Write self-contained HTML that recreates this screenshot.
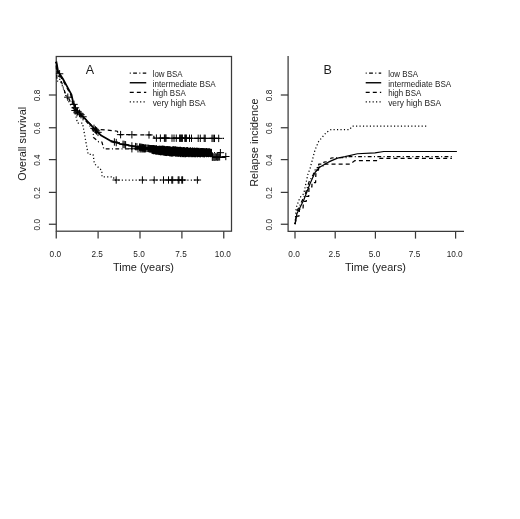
<!DOCTYPE html>
<html lang="en"><head><meta charset="utf-8"><title>Figure</title>
<style>html,body{margin:0;padding:0;background:#fff}svg{display:block}</style>
</head><body>
<svg width="520" height="519" viewBox="0 0 520 519" font-family="'Liberation Sans', sans-serif">
<rect width="520" height="519" fill="#fff"/>
<g fill="none" stroke="#3a3a3a" stroke-width="1.25">
<rect x="56.25" y="56.5" width="175.25" height="174.7"/>
<path d="M48.9,224.25H56.25"/>
<path d="M48.9,192.4H56.25"/>
<path d="M48.9,159.6H56.25"/>
<path d="M48.9,127.75H56.25"/>
<path d="M48.9,95H56.25"/>
<path d="M56.25,231.3V238.6"/>
<path d="M98.1,231.3V238.6"/>
<path d="M140,231.3V238.6"/>
<path d="M181.9,231.3V238.6"/>
<path d="M223.75,231.3V238.6"/>
</g>
<g fill="#1c1c1c" font-size="8.25" text-anchor="middle">
<text transform="translate(39.8,224.75) rotate(-90)">0.0</text>
<text transform="translate(39.8,192.9) rotate(-90)">0.2</text>
<text transform="translate(39.8,160.1) rotate(-90)">0.4</text>
<text transform="translate(39.8,128.25) rotate(-90)">0.6</text>
<text transform="translate(39.8,95.5) rotate(-90)">0.8</text>
<text x="55.35" y="257.0">0.0</text>
<text x="97.20" y="257.0">2.5</text>
<text x="139.10" y="257.0">5.0</text>
<text x="181.00" y="257.0">7.5</text>
<text x="222.85" y="257.0">10.0</text>
</g>
<g fill="#1c1c1c" font-size="10.8" text-anchor="middle">
<text x="143.5" y="270.6" textLength="61" lengthAdjust="spacingAndGlyphs">Time (years)</text>
<text transform="translate(26.0,143.8) rotate(-90)">Overall survival</text>
</g>
<text x="90" y="74.4" fill="#1c1c1c" font-size="12.5" text-anchor="middle">A</text>
<g fill="none" stroke="#000" stroke-linejoin="round">
<path d="M56.00,62.00 L56.50,70.00 L57.00,81.00 L61.40,81.60 L65.75,94.75 L68.90,98.50 L72.00,106.00 L76.00,112.00 L80.00,115.00 L86.00,121.00 L93.10,130.00 L93.50,137.50 L98.75,141.90 L101.90,142.00 L103.75,148.75 L190.00,148.75 L190.50,152.70 L220.40,152.70" stroke-width="1.25" stroke-dasharray="1 2.4 3.8 2.4"/>
<path d="M56.30,62.00 L57.60,72.00 L62.00,79.00 L66.80,87.50 L70.80,95.00 L72.60,103.00 L75.50,109.00 L77.00,110.50 L86.00,119.50 L94.00,128.50 L96.90,129.40 L106.25,130.00 L117.50,131.25 L118.00,134.60 L153.75,135.00 L154.00,138.10 L224.00,138.40" stroke-width="1.25" stroke-dasharray="4 3.1"/>
<path d="M56.00,62.00 L58.00,75.00 L62.00,85.00 L66.00,96.00 L70.00,104.00 L75.00,112.50 L77.50,123.10 L82.50,123.10 L88.10,154.20 L93.10,154.40 L94.40,163.75 L101.90,170.60 L102.00,176.90 L113.50,176.90 L114.00,180.00 L200.00,180.00" stroke-width="1.25" stroke-dasharray="1.15 2.3"/>
<path d="M56.30,61.50 L58.10,71.50 L62.70,78.50 L67.30,86.90 L71.50,94.60 L73.10,102.30 L75.80,108.50 L77.50,111.25 L86.25,120.00 L95.00,129.40 L101.25,135.60 L110.00,140.60 L120.00,143.75 L135.00,146.50 L155.00,149.40 L185.00,151.75 L212.00,152.80 L212.50,157.00 L225.80,157.00" stroke-width="1.75"/>
<path d="M55.90,73.78h7.40M59.60,70.08v7.40M70.30,104.37h7.40M74.00,100.67v7.40M71.80,107.81h7.40M75.50,104.11v7.40M73.80,111.25h7.40M77.50,107.55v7.40M75.80,113.25h7.40M79.50,109.55v7.40M77.30,114.75h7.40M81.00,111.05v7.40M79.30,116.75h7.40M83.00,113.05v7.40M90.30,128.33h7.40M94.00,124.63v7.40M91.80,129.90h7.40M95.50,126.20v7.40M92.80,130.89h7.40M96.50,127.19v7.40M94.30,132.38h7.40M98.00,128.68v7.40M64.10,97.19h7.40M67.80,93.49v7.40M71.30,110.50h7.40M75.00,106.80v7.40M73.30,112.75h7.40M77.00,109.05v7.40M110.70,141.99h7.40M114.40,138.29v7.40M112.55,142.57h7.40M116.25,138.87v7.40M119.30,144.30h7.40M123.00,140.60v7.40M120.50,144.52h7.40M124.20,140.82v7.40M121.90,144.78h7.40M125.60,141.08v7.40M128.20,145.93h7.40M131.90,142.23v7.40M131.90,146.59h7.40M135.60,142.89v7.40M133.20,146.78h7.40M136.90,143.08v7.40M128.20,148.75h7.40M131.90,145.05v7.40M134.30,148.75h7.40M138.00,145.05v7.40M137.30,148.75h7.40M141.00,145.05v7.40M135.80,147.15h7.40M139.50,143.45v7.40M136.30,148.75h7.40M140.00,145.05v7.40M136.49,147.25h7.40M140.19,143.55v7.40M137.13,147.35h7.40M140.83,143.65v7.40M137.95,147.46h7.40M141.65,143.76v7.40M138.45,148.75h7.40M142.15,145.05v7.40M138.86,147.60h7.40M142.56,143.90v7.40M139.36,148.75h7.40M143.06,145.05v7.40M139.72,147.72h7.40M143.42,144.02v7.40M140.22,148.75h7.40M143.92,145.05v7.40M140.37,147.82h7.40M144.07,144.12v7.40M140.87,148.75h7.40M144.57,145.05v7.40M141.47,147.97h7.40M145.17,144.27v7.40M141.97,148.75h7.40M145.67,145.05v7.40M142.20,148.08h7.40M145.90,144.38v7.40M143.37,148.25h7.40M147.07,144.55v7.40M144.21,148.37h7.40M147.91,144.67v7.40M144.84,148.46h7.40M148.54,144.76v7.40M145.61,148.58h7.40M149.31,144.88v7.40M146.11,148.75h7.40M149.81,145.05v7.40M146.28,148.67h7.40M149.98,144.97v7.40M146.78,148.75h7.40M150.48,145.05v7.40M147.37,148.83h7.40M151.07,145.13v7.40M147.87,148.75h7.40M151.57,145.05v7.40M148.32,148.97h7.40M152.02,145.27v7.40M149.14,149.09h7.40M152.84,145.39v7.40M149.78,149.18h7.40M153.48,145.48v7.40M150.28,148.75h7.40M153.98,145.05v7.40M150.50,149.28h7.40M154.20,145.58v7.40M216.70,152.70h7.40M220.40,149.00v7.40M222.10,156.50h7.40M225.80,152.80v7.40M116.90,134.63h7.40M120.60,130.93v7.40M128.20,134.76h7.40M131.90,131.06v7.40M145.30,134.95h7.40M149.00,131.25v7.40M152.70,138.11h7.40M156.40,134.41v7.40M156.70,138.13h7.40M160.40,134.43v7.40M160.70,138.14h7.40M164.40,134.44v7.40M161.50,138.15h7.40M165.20,134.45v7.40M162.30,138.15h7.40M166.00,134.45v7.40M168.30,138.18h7.40M172.00,134.48v7.40M170.30,138.19h7.40M174.00,134.49v7.40M172.60,138.20h7.40M176.30,134.50v7.40M175.90,138.21h7.40M179.60,134.51v7.40M176.90,138.21h7.40M180.60,134.51v7.40M177.90,138.22h7.40M181.60,134.52v7.40M178.70,138.22h7.40M182.40,134.52v7.40M181.10,138.23h7.40M184.80,134.53v7.40M181.90,138.24h7.40M185.60,134.54v7.40M182.70,138.24h7.40M186.40,134.54v7.40M185.80,138.25h7.40M189.50,134.55v7.40M187.80,138.26h7.40M191.50,134.56v7.40M194.50,138.29h7.40M198.20,134.59v7.40M196.60,138.30h7.40M200.30,134.60v7.40M200.50,138.32h7.40M204.20,134.62v7.40M201.50,138.32h7.40M205.20,134.62v7.40M208.30,138.35h7.40M212.00,134.65v7.40M209.50,138.35h7.40M213.20,134.65v7.40M210.80,138.36h7.40M214.50,134.66v7.40M215.00,138.38h7.40M218.70,134.68v7.40M112.50,180.00h7.40M116.20,176.30v7.40M138.70,180.00h7.40M142.40,176.30v7.40M150.50,180.00h7.40M154.20,176.30v7.40M159.80,180.00h7.40M163.50,176.30v7.40M164.80,180.00h7.40M168.50,176.30v7.40M168.10,180.00h7.40M171.80,176.30v7.40M169.00,180.00h7.40M172.70,176.30v7.40M174.50,180.00h7.40M178.20,176.30v7.40M175.30,180.00h7.40M179.00,176.30v7.40M178.10,180.00h7.40M181.80,176.30v7.40M178.90,180.00h7.40M182.60,176.30v7.40M193.70,180.00h7.40M197.40,176.30v7.40" stroke-width="1"/>
<path d="M152.00,145.12V153.85M152.50,145.28V153.70M153.00,145.59V154.09M153.50,145.20V154.06M154.00,145.46V154.37M154.50,145.67V153.97M155.00,145.91V153.91M155.50,145.51V154.49M156.00,145.34V154.35M156.50,145.29V154.56M157.00,145.91V154.56M157.50,146.03V154.42M158.00,145.92V154.71M158.50,145.86V154.66M159.00,146.10V155.12M159.50,145.83V154.96M160.00,145.53V155.05M160.50,146.03V155.35M161.00,146.20V154.85M161.50,145.89V155.22M162.00,145.63V155.12M162.50,145.77V154.91M163.00,145.72V155.50M163.50,145.80V155.15M164.00,146.04V155.71M164.50,145.83V155.44M165.00,146.23V155.85M165.50,146.48V155.90M166.00,146.08V155.61M166.50,146.17V156.05M167.00,146.68V155.53M167.50,146.09V155.66M168.00,146.16V155.93M168.50,146.48V155.81M169.00,146.04V156.00M169.50,146.36V156.19M170.00,146.86V156.35M170.50,146.54V156.32M171.00,146.70V155.90M171.50,146.91V156.50M172.00,146.92V156.55M172.50,146.57V156.25M173.00,146.37V156.47M173.50,146.37V156.04M174.00,146.51V156.15M174.50,146.65V156.08M175.00,146.41V156.19M175.50,146.52V156.39M176.00,146.49V156.82M176.50,146.99V156.27M177.00,146.73V156.45M177.50,146.85V156.30M178.00,147.27V157.03M178.50,147.00V156.64M179.00,146.72V156.37M179.50,146.96V156.52M180.00,147.38V156.47M180.50,146.76V157.13M181.00,147.20V156.51M181.50,147.24V156.44M182.00,147.26V157.23M182.50,147.56V157.03M183.00,147.11V156.79M183.50,147.06V157.12M184.00,147.38V157.13M184.50,147.24V156.68M185.00,147.65V157.30M185.50,147.71V157.15M186.00,147.70V157.10M186.50,147.26V156.93M187.00,147.38V156.54M187.50,147.15V156.74M188.00,147.36V157.07M188.50,147.94V156.88M189.00,147.95V157.31M189.50,147.99V156.82M190.00,147.43V156.71M190.50,147.43V156.69M191.00,147.80V157.25M191.50,148.00V156.92M192.00,147.87V157.17M192.50,147.44V157.07M193.00,148.13V157.16M193.50,148.03V156.92M194.00,147.59V157.17M194.50,147.74V157.18M195.00,148.28V156.86M195.50,147.85V157.31M196.00,148.13V156.69M196.50,147.68V156.67M197.00,148.32V157.20M197.50,147.74V157.22M198.00,148.43V157.08M198.50,147.96V157.00M199.00,147.80V156.57M199.50,148.50V157.08M200.00,148.17V157.31M200.50,148.12V157.26M201.00,148.46V156.74M201.50,148.03V156.81M202.00,148.04V157.04M202.50,148.08V156.91M203.00,148.00V157.30M203.50,148.21V156.95M204.00,148.42V157.30M204.50,148.31V157.32M205.00,148.40V157.01M205.50,148.44V156.60M206.00,148.40V156.73M206.50,148.08V157.23M207.00,148.24V156.97M207.50,148.71V157.04M208.00,148.41V157.01M208.50,148.62V157.23M209.00,148.28V157.05M209.50,148.43V156.82M210.00,148.88V157.01M210.50,148.75V157.21M211.00,149.06V156.95M211.50,148.86V157.00M212.30,153.31V160.92M213.13,153.32V160.79M214.20,153.42V161.03M215.27,153.16V160.84M216.34,153.50V160.58M217.00,153.27V160.54M217.72,153.04V160.90M218.71,153.54V160.59M219.67,153.40V160.59M212,157.1H221" stroke-width="1"/>
</g>
<g fill="none" stroke="#000" stroke-width="1.25">
<path d="M129.75,73.1H146.25" stroke-dasharray="1 2.4 3.8 2.4"/>
<path d="M129.75,82.75H146.25" stroke-width="1.4"/>
<path d="M129.75,92.25H146.25" stroke-dasharray="4 3.1"/>
<path d="M129.75,101.9H146.25" stroke-dasharray="1.15 2.3"/>
</g>
<g fill="#1c1c1c" font-size="8.2">
<text x="152.7" y="77.1" textLength="29.9" lengthAdjust="spacingAndGlyphs">low BSA</text>
<text x="152.7" y="86.75" textLength="63.0" lengthAdjust="spacingAndGlyphs">intermediate BSA</text>
<text x="152.7" y="96.25" textLength="33.0" lengthAdjust="spacingAndGlyphs">high BSA</text>
<text x="152.7" y="105.9" textLength="53.0" lengthAdjust="spacingAndGlyphs">very high BSA</text>
</g>
<g fill="none" stroke="#3a3a3a" stroke-width="1.25">
<path d="M288.1,56V231.3H464"/>
<path d="M280.8,224.25H288.1"/>
<path d="M280.8,192.4H288.1"/>
<path d="M280.8,159.6H288.1"/>
<path d="M280.8,127.75H288.1"/>
<path d="M280.8,95H288.1"/>
<path d="M295,231.3V238.6"/>
<path d="M335.2,231.3V238.6"/>
<path d="M375.4,231.3V238.6"/>
<path d="M415.5,231.3V238.6"/>
<path d="M455.6,231.3V238.6"/>
</g>
<g fill="#1c1c1c" font-size="8.25" text-anchor="middle">
<text transform="translate(272.2,224.75) rotate(-90)">0.0</text>
<text transform="translate(272.2,192.9) rotate(-90)">0.2</text>
<text transform="translate(272.2,160.1) rotate(-90)">0.4</text>
<text transform="translate(272.2,128.25) rotate(-90)">0.6</text>
<text transform="translate(272.2,95.5) rotate(-90)">0.8</text>
<text x="294.10" y="257.0">0.0</text>
<text x="334.30" y="257.0">2.5</text>
<text x="374.50" y="257.0">5.0</text>
<text x="414.60" y="257.0">7.5</text>
<text x="454.70" y="257.0">10.0</text>
</g>
<g fill="#1c1c1c" font-size="10.8" text-anchor="middle">
<text x="375.5" y="270.6" textLength="61" lengthAdjust="spacingAndGlyphs">Time (years)</text>
<text transform="translate(258.3,142.6) rotate(-90)">Relapse incidence</text>
</g>
<text x="327.6" y="74.4" fill="#1c1c1c" font-size="12.5" text-anchor="middle">B</text>
<g fill="none" stroke="#000" stroke-linejoin="round">
<path d="M295.00,224.00 L297.00,211.00 L301.00,203.00 L305.00,195.00 L309.00,182.00 L313.00,175.00 L316.00,168.00 L323.00,166.00 L324.00,162.00 L330.00,161.50 L331.00,158.00 L347.00,157.50 L347.50,156.70 L451.90,156.70" stroke-width="1.25" stroke-dasharray="1 2.4 3.8 2.4"/>
<path d="M295.00,224.00 L297.00,216.00 L299.00,216.00 L299.50,209.00 L303.00,209.00 L303.50,201.50 L306.25,201.30 L306.50,196.25 L308.75,196.25 L309.00,187.00 L311.90,186.90 L312.00,182.50 L315.60,182.50 L316.00,170.00 L318.50,170.00 L318.75,164.00 L350.00,164.00 L355.00,160.60 L377.50,160.60 L380.00,158.30 L451.90,158.30" stroke-width="1.25" stroke-dasharray="4 3.1"/>
<path d="M295.00,224.00 L296.25,207.50 L300.00,197.50 L303.75,193.75 L308.00,173.75 L310.00,168.75 L315.00,150.00 L318.75,141.25 L326.25,132.50 L331.25,129.50 L349.40,129.60 L352.50,126.00 L427.50,126.00" stroke-width="1.25" stroke-dasharray="1.15 2.3"/>
<path d="M295.00,224.40 L296.90,213.75 L303.75,200.00 L310.00,183.75 L315.00,172.50 L320.00,166.90 L328.75,161.90 L337.50,158.10 L345.00,156.60 L357.50,153.75 L375.00,152.90 L383.75,151.50 L456.90,151.50" stroke-width="1.2"/>
</g>
<g fill="none" stroke="#000" stroke-width="1.25">
<path d="M365.7,73.1H381.2" stroke-dasharray="1 2.4 3.8 2.4"/>
<path d="M365.7,82.75H381.2" stroke-width="1.4"/>
<path d="M365.7,92.25H381.2" stroke-dasharray="4 3.1"/>
<path d="M365.7,101.9H381.2" stroke-dasharray="1.15 2.3"/>
</g>
<g fill="#1c1c1c" font-size="8.2">
<text x="388.20000000000005" y="77.1" textLength="29.9" lengthAdjust="spacingAndGlyphs">low BSA</text>
<text x="388.20000000000005" y="86.75" textLength="63.0" lengthAdjust="spacingAndGlyphs">intermediate BSA</text>
<text x="388.20000000000005" y="96.25" textLength="33.0" lengthAdjust="spacingAndGlyphs">high BSA</text>
<text x="388.20000000000005" y="105.9" textLength="53.0" lengthAdjust="spacingAndGlyphs">very high BSA</text>
</g>
</svg>
</body></html>
